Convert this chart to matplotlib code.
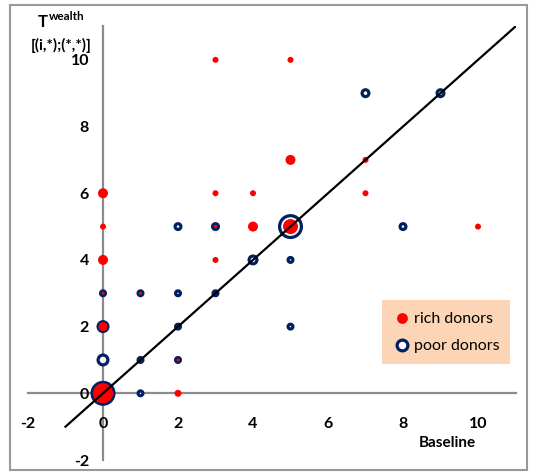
import matplotlib.pyplot as plt
from matplotlib.patches import Rectangle

plt.rcParams['font.family'] = ['Lato', 'DejaVu Sans']
plt.rcParams['axes.unicode_minus'] = False

# rich donors: position and bubble diameter (px)
rich_x = [0, 0, 0, 0, 0, 0, 1, 1, 2, 2, 2, 3, 3, 3, 3, 3, 3, 4, 4, 5, 5, 5, 7, 7, 10]
rich_y = [0, 2, 3, 4, 5, 6, 1, 3, 0, 1, 2, 3, 4, 5, 6, 10, 5, 5, 6, 5, 7, 10, 6, 7, 5]
rich_d = [20, 9, 3, 10, 6, 10, 2, 3, 7, 3, 2, 2, 6, 3, 6, 6, 3, 10, 6, 15, 10, 6, 6, 6, 6]

# poor donors: position and ring diameter (px)
poor_x = [0, 0, 0, 0, 1, 1, 1, 2, 2, 2, 2, 3, 3, 4, 5, 5, 5, 7, 8, 9]
poor_y = [0, 1, 2, 3, 0, 1, 3, 1, 2, 3, 5, 3, 5, 4, 2, 4, 5, 9, 5, 9]
poor_d = [25, 13, 13, 8, 8, 8, 8, 8, 8, 8, 9, 8, 9, 11, 8, 8, 25, 10, 9, 10]

ticks = [-2, 0, 2, 4, 6, 8, 10]

px = 0.72  # points per pixel at dpi 100
ring_lw = 2.3

fig = plt.figure(figsize=(5.35, 4.73), dpi=100)
ax = fig.add_axes([28 / 535, 1 - 460 / 473, 487.5 / 535, 433.5 / 473])
ax.set_xlim(-2, 11)
ax.set_ylim(-2, 11)

ax.scatter(poor_x, poor_y, s=[((d - ring_lw / px) * px) ** 2 for d in poor_d],
           facecolors='white', edgecolors='#002060', linewidths=ring_lw, zorder=3,
           label='poor donors')
ax.scatter(rich_x, rich_y, s=[(d * px) ** 2 for d in rich_d], color='#ff0000',
           linewidths=0, zorder=4, label='rich donors')
ax.plot([-1, 11], [-1, 11], color='black', lw=1.6, zorder=5)

for s in ['top', 'right']:
    ax.spines[s].set_visible(False)
for s in ['left', 'bottom']:
    ax.spines[s].set_position(('data', 0))
    ax.spines[s].set_color('#8c8c8c')
    ax.spines[s].set_linewidth(1.6)
    ax.spines[s].set_zorder(1)

ax.set_xticks(ticks)
ax.set_yticks(ticks)
ax.tick_params(axis='x', length=0, pad=17, labelsize=11.5)
ax.tick_params(axis='y', length=0, pad=10, labelsize=11.5)
for lab in ax.get_xticklabels() + ax.get_yticklabels():
    lab.set_fontweight('bold')
    lab.set_clip_on(False)

fig.text(447 / 535, 1 - 443 / 473, 'Baseline', ha='center', va='center',
         fontsize=11, fontweight='bold')
fig.text(43 / 535, 1 - 22 / 473, 'T', ha='center', va='center',
         fontsize=12, fontweight='bold')
fig.text(49 / 535, 1 - 16 / 473, 'wealth', ha='left', va='center',
         fontsize=8.5, fontweight='bold')
fig.text(61 / 535, 1 - 45 / 473, '[(i,*);(*,*)]', ha='center', va='center',
         fontsize=11, fontweight='bold')

h, l = ax.get_legend_handles_labels()
leg = ax.legend(h[::-1], l[::-1], loc='center',
                bbox_to_anchor=(446 / 535, 1 - 332 / 473), bbox_transform=fig.transFigure,
                facecolor='#fbd5b5', edgecolor='none', framealpha=1, fancybox=False,
                fontsize=11.5, handletextpad=0.1, borderpad=0.7, labelspacing=0.8,
                handlelength=1.2)
for hd in leg.legend_handles:
    hd.set_sizes([60])
leg.set_zorder(6)

fig.add_artist(Rectangle((10 / 535, 1 - 470 / 473), 517 / 535, 465 / 473,
                         transform=fig.transFigure, fill=False,
                         edgecolor='#999999', lw=1.5))

fig.savefig('out.png', dpi=100)
